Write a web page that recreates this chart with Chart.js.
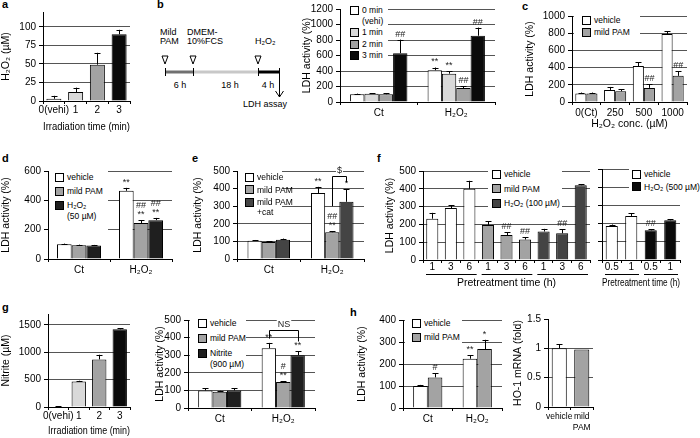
<!DOCTYPE html>
<html>
<head>
<meta charset="utf-8">
<script src="https://cdn.jsdelivr.net/npm/chart.js@4.4.1/dist/chart.umd.min.js"></script>
<style>
  body { margin: 0; background: #fff; font-family: 'Liberation Sans', Arial, sans-serif; }
  #fig { position: relative; width: 700px; height: 438px; overflow: hidden; background: #fff; }
  canvas { position: absolute; }
  .lab { position: absolute; font-weight: bold; font-size: 11px; line-height: 12px; }
  .leg { position: absolute; background: #fff; font-size: 8.5px; z-index: 2; }
  .leg div { position: absolute; white-space: pre; }
  .leg i { position: absolute; width: 7px; height: 7px; border: 1px solid #000; }
  svg { position: absolute; left: 0; top: 0; }
</style>
</head>
<body>
<div id="fig">
  <svg width="300" height="115" font-family="Liberation Sans, Arial, sans-serif" font-size="9">
    <text x="160" y="35">Mild</text>
    <text x="160" y="43.5">PAM</text>
    <text x="187" y="35">DMEM-</text>
    <text x="187" y="43.5">10%FCS</text>
    <text x="255" y="43.5">H₂O₂</text>
    <polygon points="162,56 168,56 165,64" fill="#fff" stroke="#000"/>
    <polygon points="190,56 196,56 193,64" fill="#fff" stroke="#000"/>
    <polygon points="255,56 261,56 258,64" fill="#fff" stroke="#000"/>
    <line x1="165" y1="72" x2="193" y2="72" stroke="#707070" stroke-width="3"/>
    <line x1="193" y1="72" x2="258" y2="72" stroke="#c8c8c8" stroke-width="3"/>
    <line x1="258" y1="72" x2="280" y2="72" stroke="#000" stroke-width="3"/>
    <g stroke="#000">
      <line x1="165.5" y1="68" x2="165.5" y2="76"/>
      <line x1="193.5" y1="68" x2="193.5" y2="76"/>
      <line x1="258.5" y1="68" x2="258.5" y2="76"/>
      <line x1="279.5" y1="68" x2="279.5" y2="97"/>
      <polyline points="275.5,91 279.5,97 283.5,91" fill="none"/>
    </g>
    <text x="180" y="88" text-anchor="middle">6 h</text>
    <text x="230" y="88" text-anchor="middle">18 h</text>
    <text x="268" y="88" text-anchor="middle">4 h</text>
    <text x="265" y="107" text-anchor="middle">LDH assay</text>
  </svg>
  <div class="lab" style="left:2px;top:-2px">a</div>
  <div class="lab" style="left:157px;top:-2px">b</div>
  <div class="lab" style="left:522px;top:0px">c</div>
  <div class="lab" style="left:2px;top:152px">d</div>
  <div class="lab" style="left:192px;top:152px">e</div>
  <div class="lab" style="left:377px;top:152px">f</div>
  <div class="lab" style="left:2px;top:301px">g</div>
  <div class="lab" style="left:350px;top:306px">h</div>
</div>
<script>
// ---------- data ----------
// a: H2O2 produced by irradiation
const aCats = ['0(vehi)', '1', '2', '3'];
const aH2O2 = [3, 12, 49, 90];
const aErr = [4, 6, 16, 6];

// b: LDH activity after mild PAM pretreatment
const bCats = ['Ct', 'H₂O₂'];
const bNames = ['0 min\n(vehi)', '1 min', '2 min', '3 min'];
const b0min = [100, 410];
const b1min = [108, 365];
const b2min = [100, 180];
const b3min = [630, 855];
const b0Err = [8, 35];
const b1Err = [8, 35];
const b2Err = [10, 25];
const b3Err = [175, 105];
const b0Sig = ['', '**'];
const b1Sig = ['', '**'];
const b2Sig = ['', '##'];
const b3Sig = ['##', '##'];

// c: H2O2 concentration
const cCats = ['0(Ct)', '250', '500', '1000'];
const cVehicle = [100, 140, 418, 790];
const cMild = [100, 125, 164, 304];
const cVehErr = [10, 35, 45, 35];
const cMildErr = [10, 22, 45, 55];
const cMildSig = ['', '', '##', '##'];

// d
const dCats = ['Ct', 'H₂O₂'];
const dVehicle = [100, 465];
const dMild = [93, 245];
const dH2O2 = [92, 265];
const dVehErr = [5, 20];
const dMildErr = [5, 18];
const dH2O2Err = [4, 15];
const dVehSig = ['', '**'];
const dMildSig = ['', '##\n**'];
const dH2O2Sig = ['', '##\n**'];

// e
const eCats = ['Ct', 'H₂O₂'];
const eVehicle = [103, 375];
const eMild = [97, 152];
const eMildCat = [110, 325];
const eVehErr = [5, 35];
const eMildErr = [5, 5];
const eMildCatErr = [6, 70];
const eVehSig = ['', '**'];
const eMildSig = ['', '##\n**'];
const eMildCatSig = ['', '*'];

// f: pretreatment time
const fTimes = ['1', '3', '6'];
const fVehicle = [232, 292, 400];
const fMild = [197, 140, 115];
const fH2O2 = [160, 150, 420];
const fVehErr = [33, 16, 45];
const fMildErr = [22, 15, 12];
const fH2O2Err = [15, 22, 5];
const fMildSig = ['', '##', '##'];
const fH2O2Sig = ['', '##', ''];
const fRTimes = ['0.5', '1'];
const fRVehicle = [187, 242];
const fRH2O2 = [163, 218];
const fRVehErr = [8, 15];
const fRH2O2Err = [5, 5];
const fRH2O2Sig = ['##', ''];

// g: nitrite
const gCats = ['0(vehi)', '1', '2', '3'];
const gNitrite = [8, 465, 870, 1420];
const gErr = [5, 15, 85, 20];
const g2Cats = ['Ct', 'H₂O₂'];
const g2Vehicle = [100, 340];
const g2Mild = [93, 148];
const g2Nitrite = [100, 300];
const g2VehErr = [13, 30];
const g2MildErr = [5, 5];
const g2NitErr = [13, 22];
const g2VehSig = ['', '**'];
const g2MildSig = ['', '#\n**'];
const g2NitSig = ['', '**'];

// h
const hCats = ['Ct', 'H₂O₂'];
const hVehicle = [100, 224];
const hMild = [139, 268];
const hVehErr = [5, 16];
const hMildErr = [20, 42];
const hVehSig = ['', '**'];
const hMildSig = ['#', '*'];
const hoCats = ['vehicle', ['mild', 'PAM']];
const hoValues = [1.0, 0.98];
const hoErr = [0.07, 0];

// ---------- helpers ----------
const WHITE = '#ffffff', LIGHT = '#d9d9d9', MID = '#a3a3a3', DARK = '#444444', BLACK = '#0a0a0a';
const fig = document.getElementById('fig');

Chart.defaults.font.family = "'Liberation Sans', Arial, sans-serif";
Chart.defaults.font.size = 10;
Chart.defaults.color = '#000';

// error bars, significance marks, brackets, group underlines
const extras = {
  id: 'extras',
  afterDatasetsDraw(chart, args, opts) {
    const ctx = chart.ctx, x = chart.scales.x, y = chart.scales.y;
    ctx.save();
    ctx.strokeStyle = '#000';
    ctx.lineWidth = 1;
    chart.data.datasets.forEach((ds, di) => {
      chart.getDatasetMeta(di).data.forEach((el, i) => {
        const v = ds.data[i];
        const e = (ds.err || [])[i] || 0;
        const yt = y.getPixelForValue(v + e);
        const xx = Math.round(el.x) + 0.5;
        if (e) {
          ctx.beginPath();
          ctx.moveTo(xx, el.y);
          ctx.lineTo(xx, yt);
          ctx.moveTo(xx - 3, Math.round(yt) + 0.5);
          ctx.lineTo(xx + 3, Math.round(yt) + 0.5);
          ctx.stroke();
        }
        const s = (ds.sig || [])[i];
        if (s) {
          ctx.font = "9px 'Liberation Sans', Arial";
          ctx.fillStyle = '#222';
          ctx.textAlign = 'center';
          ctx.textBaseline = 'bottom';
          s.split('\n').reverse().forEach((t, k) => ctx.fillText(t, el.x, yt - 1 - k * 9));
        }
      });
    });
    (opts.brackets || []).forEach(b => {
      const x1 = Math.round(chart.getDatasetMeta(b.from[0]).data[b.from[1]].x) + 0.5;
      const x2 = Math.round(chart.getDatasetMeta(b.to[0]).data[b.to[1]].x) + 0.5;
      const yh = Math.round(y.getPixelForValue(b.at)) + 0.5;
      ctx.beginPath();
      ctx.moveTo(x1, y.getPixelForValue(b.legs[0]));
      ctx.lineTo(x1, yh);
      ctx.lineTo(x2, yh);
      ctx.lineTo(x2, y.getPixelForValue(b.legs[1]));
      ctx.stroke();
      ctx.font = "9px 'Liberation Sans', Arial";
      const w = ctx.measureText(b.text).width;
      const mx = (x1 + x2) / 2;
      ctx.fillStyle = '#fff';
      ctx.fillRect(mx - w / 2 - 1, yh - 11, w + 2, 9);
      ctx.fillStyle = '#222';
      ctx.textAlign = 'center';
      ctx.textBaseline = 'bottom';
      ctx.fillText(b.text, mx, yh - 1);
    });
    if (opts.groups) {
      const n = chart.data.labels.length;
      const cw = (x.right - x.left) / n;
      const gy = Math.round(y.bottom + opts.groupY) + 0.5;
      ctx.beginPath();
      for (let g = 0; g < n / opts.groups; g++) {
        ctx.moveTo(x.left + g * opts.groups * cw + 3, gy);
        ctx.lineTo(x.left + (g + 1) * opts.groups * cw - 2, gy);
      }
      ctx.stroke();
    }
    ctx.restore();
  }
};

function panel(o) {
  const pt = o.pt ?? 7, pr = o.pr ?? 3;
  const c = document.createElement('canvas');
  const W = Math.round(o.R - o.L + o.yw + pr);
  const H = Math.round(o.B - o.T + pt + o.xh);
  c.width = W; c.height = H;
  c.style.left = (o.L - o.yw) + 'px';
  c.style.top = (o.T - pt) + 'px';
  fig.appendChild(c);
  const top = o.top ?? o.max;
  return new Chart(c, {
    type: 'bar',
    data: { labels: o.labels, datasets: o.datasets },
    options: {
      responsive: false,
      animation: false,
      layout: { padding: { top: pt, right: pr, left: 0, bottom: 0 } },
      datasets: { bar: { categoryPercentage: o.cat ?? 1, barPercentage: o.bar ?? 1, borderColor: '#000', borderWidth: 1 } },
      plugins: { legend: { display: false }, tooltip: { enabled: false }, extras: o.extras || {} },
      scales: {
        x: {
          grid: { drawOnChartArea: false, color: '#000', tickLength: 3 },
          border: { color: '#000' },
          ticks: { padding: o.xpad ?? 2, maxRotation: 0, autoSkip: false, font: { size: o.xfs ?? 10 } },
          title: { display: !!o.xTitle, text: o.xTitle, padding: 0, font: { size: 10.5 } },
          afterFit(s) { s.height = o.xh; }
        },
        y: {
          min: 0,
          max: o.max,
          grid: {
            color: ctx => (o.noTopGrid && ctx.tick && ctx.tick.value >= top) ? 'rgba(0,0,0,0)' : '#555',
            tickColor: '#000',
            tickLength: 4
          },
          border: { color: '#000' },
          ticks: { padding: 3, display: o.yLabels !== false, callback: v => String(v) },
          afterBuildTicks(s) {
            const t = [];
            for (let k = 0; k * o.step <= top + 1e-9; k++) t.push({ value: +(k * o.step).toFixed(3) });
            s.ticks = t;
          },
          title: { display: !!o.yTitle, text: o.yTitle, padding: 0, font: { size: 10.5 } },
          afterFit(s) { s.width = o.yw; }
        }
      }
    },
    plugins: [extras]
  });
}

function legend(items, sx, y0, pitch, lineH, bg) {
  const box = document.createElement('div');
  box.className = 'leg';
  box.style.left = bg[0] + 'px';
  box.style.top = bg[1] + 'px';
  box.style.width = bg[2] + 'px';
  box.style.height = bg[3] + 'px';
  let y = y0;
  items.forEach(it => {
    const sq = document.createElement('i');
    sq.style.left = (sx - bg[0]) + 'px';
    sq.style.top = (y - bg[1] - 4.5) + 'px';
    sq.style.background = it.color;
    box.appendChild(sq);
    const t = document.createElement('div');
    t.style.left = (sx + 12 - bg[0]) + 'px';
    t.style.top = (y - bg[1] - lineH / 2) + 'px';
    t.style.lineHeight = lineH + 'px';
    t.textContent = it.text;
    box.appendChild(t);
    y += pitch + (it.text.split('\n').length - 1) * lineH;
  });
  fig.appendChild(box);
}

function fromSets(chart) {
  return chart.data.datasets.map(d => ({ text: d.label, color: d.backgroundColor }));
}

// ---------- a ----------
panel({
  L: 43, R: 130, B: 101, T: 9.8, max: 120, top: 100, step: 25, yw: 43, xh: 32, bar: 0.69, xpad: 0,
  labels: aCats, yTitle: 'H₂O₂ (µM)', xTitle: 'Irradiation time (min)',
  datasets: [{ data: aH2O2, err: aErr, backgroundColor: [WHITE, LIGHT, MID, BLACK] }]
});

// ---------- b ----------
const chB = panel({
  L: 340, R: 495, B: 101.7, T: 6.7, pt: 6.7, max: 1200, step: 200, yw: 39, xh: 22, cat: 0.74,
  labels: bCats, yTitle: 'LDH activity (%)',
  datasets: [
    { label: bNames[0], data: b0min, err: b0Err, sig: b0Sig, backgroundColor: WHITE },
    { label: bNames[1], data: b1min, err: b1Err, sig: b1Sig, backgroundColor: LIGHT },
    { label: bNames[2], data: b2min, err: b2Err, sig: b2Sig, backgroundColor: MID },
    { label: bNames[3], data: b3min, err: b3Err, sig: b3Sig, backgroundColor: BLACK }
  ]
});
legend(fromSets(chB), 350, 10.7, 11.5, 10.5, [341, 2, 47, 61]);

// ---------- c ----------
const chC = panel({
  L: 572, R: 687, B: 101.7, T: 14, max: 1000, step: 200, yw: 48, xh: 28, cat: 0.77,
  labels: cCats, yTitle: 'LDH activity (%)', xTitle: 'H₂O₂ conc. (µM)',
  datasets: [
    { label: 'vehicle', data: cVehicle, err: cVehErr, backgroundColor: WHITE },
    { label: 'mild PAM', data: cMild, err: cMildErr, sig: cMildSig, backgroundColor: MID }
  ]
});
legend(fromSets(chC), 582, 20, 12, 10.5, [574, 8, 66, 32]);

// ---------- d ----------
const chD = panel({
  L: 48, R: 172, B: 259, T: 170, pt: 8, max: 600, step: 200, yw: 48, xh: 22, cat: 0.71,
  labels: dCats, yTitle: 'LDH activity (%)',
  datasets: [
    { label: 'vehicle', data: dVehicle, err: dVehErr, sig: dVehSig, backgroundColor: WHITE },
    { label: 'mild PAM', data: dMild, err: dMildErr, sig: dMildSig, backgroundColor: MID },
    { label: 'H₂O₂\n(50 µM)', data: dH2O2, err: dH2O2Err, sig: dH2O2Sig, backgroundColor: '#1f1f1f' }
  ]
});
legend(fromSets(chD), 55, 177, 14, 11, [49, 162, 59, 72]);

// ---------- e ----------
const chE = panel({
  L: 237, R: 364, B: 259, T: 170, pt: 8, max: 500, step: 100, yw: 45, xh: 22, cat: 0.67,
  labels: eCats, yTitle: 'LDH activity (%)',
  datasets: [
    { label: 'vehicle', data: eVehicle, err: eVehErr, sig: eVehSig, backgroundColor: WHITE },
    { label: 'mild PAM', data: eMild, err: eMildErr, sig: eMildSig, backgroundColor: MID },
    { label: 'mild PAM\n+cat', data: eMildCat, err: eMildCatErr, sig: eMildCatSig, backgroundColor: DARK }
  ],
  extras: { brackets: [{ from: [1, 1], to: [2, 1], at: 470, legs: [300, 435], text: '$' }] }
});
legend(fromSets(chE), 245, 177, 12.5, 10, [238, 165, 44, 50]);

// ---------- f ----------
panel({
  L: 423, R: 590, B: 260, T: 169, max: 500, step: 100, yw: 39, xh: 29, bar: 0.65, xpad: -2,
  labels: [...fTimes, ...fTimes, ...fTimes], yTitle: 'LDH activity (%)', xTitle: 'Pretreatment time (h)',
  datasets: [{
    data: [...fVehicle, ...fMild, ...fH2O2],
    err: [...fVehErr, ...fMildErr, ...fH2O2Err],
    sig: [...fTimes.map(() => ''), ...fMildSig, ...fH2O2Sig],
    backgroundColor: [...fTimes.map(() => WHITE), ...fTimes.map(() => MID), ...fTimes.map(() => DARK)]
  }],
  extras: { groups: 3, groupY: 14 }
});
legend([
  { text: 'vehicle', color: WHITE },
  { text: 'mild PAM', color: MID },
  { text: 'H₂O₂ (100 µM)', color: DARK }
], 492, 174, 14.5, 10, [488, 164, 74, 46]);

panel({
  L: 602, R: 680, B: 260, T: 169, max: 500, step: 100, yw: 5, xh: 29, bar: 0.62, xpad: -2, yLabels: false,
  labels: [...fRTimes, ...fRTimes], xTitle: 'Pretreatment time (h)',
  datasets: [{
    data: [...fRVehicle, ...fRH2O2],
    err: [...fRVehErr, ...fRH2O2Err],
    sig: [...fRTimes.map(() => ''), ...fRH2O2Sig],
    backgroundColor: [...fRTimes.map(() => WHITE), ...fRTimes.map(() => BLACK)]
  }],
  extras: { groups: 2, groupY: 14 }
});
legend([
  { text: 'vehicle', color: WHITE },
  { text: 'H₂O₂ (500 µM)', color: BLACK }
], 632, 174, 12.5, 10, [629, 164, 71, 30]);

// ---------- g ----------
panel({
  L: 48, R: 130, B: 407, T: 311.8, max: 1700, top: 1500, step: 500, yw: 48, xh: 30, bar: 0.7, xpad: 0,
  labels: gCats, yTitle: 'Nitrite (µM)', xTitle: 'Irradiation time (min)',
  datasets: [{ data: gNitrite, err: gErr, backgroundColor: [WHITE, LIGHT, MID, BLACK] }]
});

const chG2 = panel({
  L: 188, R: 315, B: 408, T: 318, max: 500, step: 100, yw: 34, xh: 22, cat: 0.68,
  labels: g2Cats, yTitle: 'LDH activity (%)',
  datasets: [
    { label: 'vehicle', data: g2Vehicle, err: g2VehErr, sig: g2VehSig, backgroundColor: WHITE },
    { label: 'mild PAM', data: g2Mild, err: g2MildErr, sig: g2MildSig, backgroundColor: MID },
    { label: 'Nitrite\n(900 µM)', data: g2Nitrite, err: g2NitErr, sig: g2NitSig, backgroundColor: '#1f1f1f' }
  ],
  extras: { brackets: [{ from: [0, 1], to: [2, 1], at: 444, legs: [394, 378], text: 'NS' }] }
});
legend(fromSets(chG2), 198, 323, 15, 11, [190, 314, 56, 56]);

// ---------- h ----------
const chH = panel({
  L: 403, R: 502, B: 408, T: 318, max: 400, step: 100, yw: 47, xh: 22, cat: 0.59,
  labels: hCats, yTitle: 'LDH activity (%)',
  datasets: [
    { label: 'vehicle', data: hVehicle, err: hVehErr, sig: hVehSig, backgroundColor: WHITE },
    { label: 'mild PAM', data: hMild, err: hMildErr, sig: hMildSig, backgroundColor: MID }
  ]
});
legend(fromSets(chH), 412, 323, 14, 10, [405, 313, 57, 34]);

panel({
  L: 548, R: 593, B: 407, T: 317, max: 1.5, step: 0.5, yw: 36, xh: 30, pr: 8, bar: 0.67, noTopGrid: true, xfs: 8.5,
  labels: hoCats, yTitle: 'HO-1 mRNA (fold)',
  datasets: [{ data: hoValues, err: hoErr, backgroundColor: [WHITE, MID] }]
});
</script>
</body>
</html>
